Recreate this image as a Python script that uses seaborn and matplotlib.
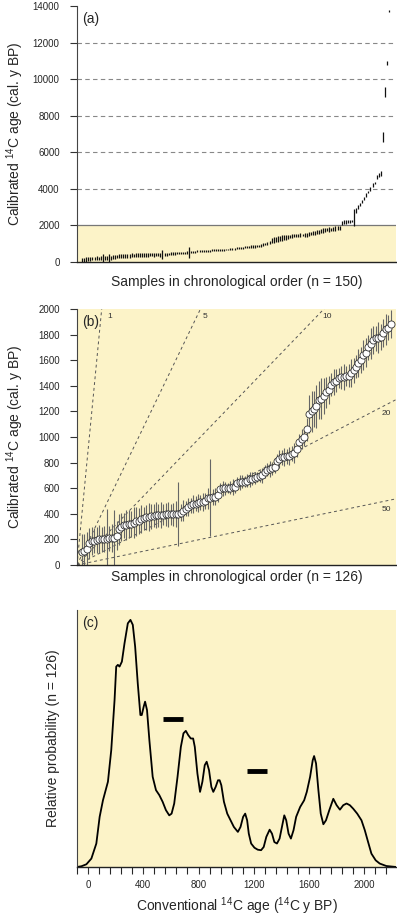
import matplotlib
matplotlib.use("Agg")
import matplotlib.pyplot as plt
import seaborn as sns
import numpy as np
import pandas as pd

# ---- panel (b): calibrated ages of the 126 samples younger than 2000 cal BP
b_age = [100, 110, 125, 170, 185,
         190, 195, 200, 200, 205, 205, 208, 208, 210,
         230, 280, 300, 310, 312, 318, 320, 330, 340, 345, 360, 365, 372, 378, 380, 385, 390,
         390, 392, 393, 395, 395, 396, 398, 400, 402,
         410, 425, 440, 455, 465, 475, 480, 485, 490, 492, 500, 520, 525, 530, 535, 550,
         590, 600, 600, 602, 605, 608, 610, 640, 645, 650, 652, 660, 670, 675, 680, 685,
         695, 700, 730, 745, 750, 755, 765,
         810, 825, 840, 845, 850, 855, 870, 875, 910, 960, 985, 1000, 1060,
         1180, 1200, 1220, 1240, 1290, 1300, 1320, 1350, 1370, 1410, 1430, 1440, 1460, 1465,
         1470, 1475, 1480, 1500, 1520, 1550,
         1580, 1600, 1640, 1660, 1700, 1730, 1760, 1770, 1775, 1780, 1810, 1840, 1855, 1880]
b_err = [140, 130, 130, 120, 110,
         100, 100, 110, 100, 100, 230, 100, 110, 220,
         110, 120, 110, 100, 120, 110, 100, 120, 110, 100, 110, 90, 100, 110, 100, 90, 100,
         90, 100, 80, 90, 100, 80, 90, 100, 250,
         70, 80, 60, 70, 60, 70, 60, 70, 60, 70, 60, 80, 300, 60, 70, 60,
         50, 60, 50, 40, 50, 60, 50, 50, 60, 50, 40, 50, 60, 50, 50, 40,
         50, 60, 50, 50, 60, 50, 50,
         60, 70, 60, 70, 60, 70, 60, 80, 70, 60, 80, 70, 90,
         150, 160, 140, 170, 150, 160, 140, 120, 110, 90, 100, 90, 80, 90,
         100, 80, 90, 110, 100, 90,
         110, 100, 120, 110, 100, 120, 110, 100, 120, 100, 110, 120, 100, 110]

# ---- panel (a): the 24 older samples (cal. ranges)
old_lo = [2050, 2100, 2080, 2150, 2120, 2180, 1950, 2700, 2900, 3050, 3200, 3400,
          3550, 3750, 3900, 4100, 4250, 4550, 4650, 4700, 6550, 9000, 10750, 13650]
old_hi = [2250, 2280, 2300, 2300, 2280, 2320, 2900, 2950, 3100, 3250, 3400, 3550,
          3750, 3900, 4100, 4300, 4400, 4750, 4850, 5000, 7100, 9550, 11000, 13800]

# ---- panel (b): reference lines (samples per 100 yr?) labels
line_k = [1, 5, 10, 20, 50]

c_age = [-80, -48, -12, 24, 60, 84, 108, 144, 168, 192, 204, 216, 228, 245, 264, 288,
         307, 324, 341, 360, 379, 389, 403, 413, 427, 444, 468, 492, 516, 540, 564, 588,
         605, 624, 648, 672, 691, 708, 725, 744, 761, 773, 792, 811, 828, 845, 859, 876,
         893, 907, 924, 941, 953, 965, 984, 1008, 1032, 1056, 1085, 1104, 1123, 1138,
         1152, 1164, 1181, 1205, 1229, 1253, 1272, 1291, 1315, 1332, 1349, 1368, 1387,
         1404, 1421, 1435, 1452, 1469, 1488, 1507, 1536, 1565, 1584, 1608, 1627, 1637,
         1651, 1668, 1685, 1704, 1723, 1747, 1776, 1800, 1824, 1848, 1872, 1896, 1920,
         1949, 1980, 2004, 2028, 2052, 2083, 2112, 2160, 2232]
c_prob = [0.0, 0.003, 0.011, 0.034, 0.095, 0.203, 0.270, 0.345, 0.473, 0.676, 0.811,
          0.818, 0.811, 0.831, 0.905, 0.986, 1.0, 0.980, 0.892, 0.743, 0.615, 0.615,
          0.649, 0.669, 0.635, 0.514, 0.365, 0.311, 0.291, 0.264, 0.230, 0.209, 0.216,
          0.257, 0.365, 0.486, 0.541, 0.551, 0.534, 0.520, 0.520, 0.486, 0.378, 0.304,
          0.345, 0.412, 0.426, 0.392, 0.324, 0.304, 0.324, 0.351, 0.351, 0.331, 0.264,
          0.216, 0.189, 0.162, 0.142, 0.162, 0.203, 0.216, 0.189, 0.135, 0.095, 0.078,
          0.070, 0.068, 0.081, 0.122, 0.151, 0.135, 0.101, 0.095, 0.115, 0.162, 0.209,
          0.189, 0.135, 0.115, 0.149, 0.203, 0.243, 0.270, 0.304, 0.365, 0.432, 0.449,
          0.419, 0.311, 0.216, 0.173, 0.189, 0.230, 0.276, 0.250, 0.232, 0.250, 0.257,
          0.250, 0.236, 0.216, 0.189, 0.149, 0.101, 0.054, 0.027, 0.014, 0.004, 0.0]
# horizontal black bars in (c)
bar_start = [545, 1152]
bar_end = [691, 1296]
bar_level = [0.599, 0.388]

sns.set_style("ticks")
plt.rcParams['font.family'] = ['Liberation Sans', 'DejaVu Sans']
plt.rcParams['mathtext.fontset'] = 'custom'
plt.rcParams['mathtext.rm'] = 'Liberation Sans'
plt.rcParams['mathtext.it'] = 'Liberation Sans'

yellow = '#fcf3c8'
ylab = 'Calibrated $^{14}$C age (cal. y BP)'

fig = plt.figure(figsize=(3.97, 9.16), dpi=100)
ax_a = fig.add_axes([77 / 397, 1 - 262 / 916, 319 / 397, 256 / 916])
ax_b = fig.add_axes([77 / 397, 1 - 565 / 916, 319 / 397, 256 / 916])
ax_c = fig.add_axes([77 / 397, 1 - 867 / 916, 319 / 397, 257 / 916])

# build a table for panel (a)
n_young = len(b_age)
dfa = pd.DataFrame({
    'idx': np.arange(1, n_young + len(old_lo) + 1),
    'lo': list(np.array(b_age) - np.array(b_err)) + old_lo,
    'hi': list(np.array(b_age) + np.array(b_err)) + old_hi,
})
dfb = pd.DataFrame({'idx': np.arange(2, n_young + 2), 'age': b_age, 'err': b_err})
dfc = pd.DataFrame({'age': c_age, 'prob': c_prob})

for ax in (ax_a, ax_b, ax_c):
    sns.despine(ax=ax)
    ax.spines['left'].set_color('#444444')
    ax.spines['bottom'].set_color('#222222')
    ax.spines['left'].set_linewidth(0.8)
    ax.spines['bottom'].set_linewidth(1.0)
    ax.tick_params(axis='both', labelsize=7, length=5, width=0.8, color='#333333', pad=7.5)

# ---- (a)
ax_a.set_facecolor('white')
ax_a.axhspan(0, 2000, color=yellow, zorder=0, lw=0)
ax_a.axhline(2000, color='#777777', lw=0.9, zorder=1)
for yv in range(4000, 14000, 2000):
    ax_a.axhline(yv, color='#888888', lw=0.8, ls=(0, (4, 3)), zorder=1)
ax_a.vlines(dfa['idx'], dfa['lo'], dfa['hi'], color='#111111', lw=0.9, zorder=3)
ax_a.set_xlim(-1.5, 153.4)
ax_a.set_ylim(0, 14000)
ax_a.set_yticks(range(0, 14001, 2000))
ax_a.set_xticks([])
ax_a.set_ylabel(ylab, fontsize=10)
ax_a.set_xlabel('Samples in chronological order (n = 150)', fontsize=10)
ax_a.yaxis.set_label_coords(-0.16, 0.5)
ax_a.xaxis.set_label_coords(0.5, -0.05)
ax_a.text(0.015, 0.975, '(a)', transform=ax_a.transAxes, fontsize=10, va='top', ha='left')

# ---- (b)
ax_b.set_facecolor(yellow)
xx = np.array([0, 130])
for k in line_k:
    ax_b.plot(xx, xx * 200 / k, color='#555555', lw=0.7, ls=(0, (3, 3)), zorder=1)
    if 2000 * k / 200 < 120:
        ax_b.text(1940 * k / 200 + 2.5, 1940, str(k), fontsize=6, va='center', ha='left', color='#333333')
    else:
        ax_b.text(125.4, 125.4 * 200 / k - 70, str(k), fontsize=6, va='center', ha='center', color='#333333')
ax_b.vlines(dfb['idx'], dfb['age'] - dfb['err'], dfb['age'] + dfb['err'], color='#666666', lw=0.8, zorder=2)
sns.scatterplot(data=dfb, x='idx', y='age', ax=ax_b, marker='o', s=26, color='white',
                edgecolor='#333333', linewidth=0.6, zorder=3, legend=False)
ax_b.set_xlim(0, 129.2)
ax_b.set_ylim(0, 2000)
ax_b.set_yticks(range(0, 2001, 200))
ax_b.set_xticks([])
ax_b.set_ylabel(ylab, fontsize=10)
ax_b.set_xlabel('Samples in chronological order (n = 126)', fontsize=10)
ax_b.yaxis.set_label_coords(-0.16, 0.5)
ax_b.xaxis.set_label_coords(0.5, -0.018)
ax_b.text(0.015, 0.975, '(b)', transform=ax_b.transAxes, fontsize=10, va='top', ha='left')

# ---- (c)
ax_c.set_facecolor(yellow)
sns.lineplot(data=dfc, x='age', y='prob', ax=ax_c, color='black', lw=1.3, sort=False)
ax_c.hlines(bar_level, bar_start, bar_end, color='black', lw=3.5)
ax_c.set_xlim(-80, 2230)
ax_c.set_ylim(0, 1.04)
ax_c.set_yticks([])
ax_c.set_xticks(range(0, 2001, 400))
ax_c.set_xticks(range(-80, 2230, 80), minor=True)
ax_c.tick_params(axis='x', which='both', length=5, width=0.8, pad=4.5, labelsize=7)
ax_c.set_ylabel('Relative probability (n = 126)', fontsize=10)
ax_c.set_xlabel('Conventional $^{14}$C age ($^{14}$C y BP)', fontsize=10)
ax_c.yaxis.set_label_coords(-0.053, 0.5)
ax_c.xaxis.set_label_coords(0.5, -0.112)
ax_c.text(0.015, 0.975, '(c)', transform=ax_c.transAxes, fontsize=10, va='top', ha='left')

plt.savefig('out.png', dpi=100)
